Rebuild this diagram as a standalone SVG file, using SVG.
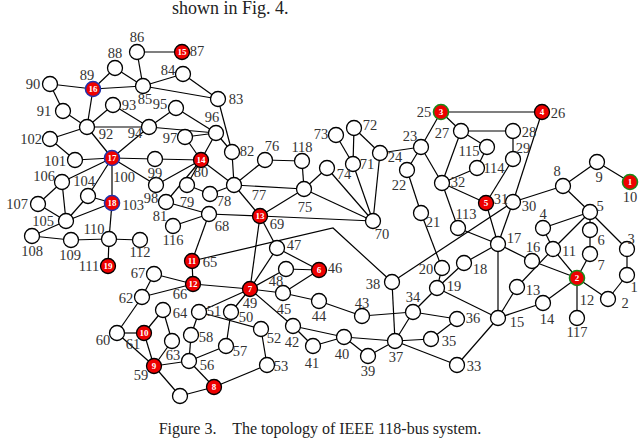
<svg xmlns="http://www.w3.org/2000/svg" width="640" height="441" viewBox="0 0 640 441">
<style>
.n{fill:#fff;stroke:#000;stroke-width:1.3}
.g{fill:#e00;stroke:#000;stroke-width:1.3}
.gg{fill:#e00;stroke:#1a8a1a;stroke-width:1.6}
.gb{fill:#e00;stroke:#2233aa;stroke-width:1.6}
.e line,.e polyline{stroke:#000;stroke-width:1.2;fill:none}
text{font-family:"Liberation Serif","Times New Roman",serif}
.l{font-size:14.5px;fill:#333;text-anchor:middle;dominant-baseline:central}
.w{font-size:9px;font-weight:bold;fill:#fff;text-anchor:middle;dominant-baseline:central}
</style>
<rect width="640" height="441" fill="#fff"/>
<text x="172" y="14" font-size="18" fill="#222">shown in Fig. 4.</text>
<g class="e">
<line x1="627" y1="275" x2="608" y2="299"/><line x1="627" y1="275" x2="627" y2="249"/><line x1="543" y1="228" x2="590" y2="212"/><line x1="627" y1="249" x2="590" y2="212"/><line x1="590" y1="212" x2="590" y2="230"/><line x1="590" y1="230" x2="590" y2="254"/><line x1="563" y1="186" x2="597" y2="162"/><line x1="563" y1="186" x2="590" y2="212"/><line x1="597" y1="162" x2="630" y2="182"/><line x1="543" y1="228" x2="553" y2="249"/><line x1="590" y1="212" x2="553" y2="249"/><line x1="553" y1="249" x2="577" y2="278"/><line x1="608" y1="299" x2="577" y2="278"/><line x1="590" y1="254" x2="577" y2="278"/><line x1="553" y1="249" x2="517" y2="287"/><line x1="577" y1="278" x2="543" y2="303"/><line x1="517" y1="287" x2="498" y2="318"/><line x1="543" y1="303" x2="498" y2="318"/><line x1="577" y1="278" x2="532" y2="261"/><line x1="498" y1="318" x2="498" y2="244"/><line x1="532" y1="261" x2="498" y2="244"/><line x1="498" y1="244" x2="464" y2="263"/><line x1="464" y1="263" x2="437" y2="288"/><line x1="437" y1="288" x2="442" y2="268"/><line x1="498" y1="318" x2="437" y2="288"/><line x1="442" y1="268" x2="421" y2="213"/><line x1="421" y1="213" x2="407" y2="170"/><line x1="407" y1="170" x2="421" y2="147"/><line x1="421" y1="147" x2="380" y2="153"/><line x1="421" y1="147" x2="441" y2="112"/><line x1="542" y1="112" x2="441" y2="112"/><line x1="441" y1="112" x2="461" y2="131"/><line x1="461" y1="131" x2="513" y2="131"/><line x1="513" y1="131" x2="513" y2="159"/><line x1="513" y1="202" x2="498" y2="244"/><line x1="563" y1="186" x2="513" y2="202"/><line x1="542" y1="112" x2="513" y2="202"/><line x1="498" y1="244" x2="486" y2="203"/><line x1="513" y1="159" x2="486" y2="203"/><line x1="421" y1="147" x2="442" y2="183"/><line x1="486" y1="203" x2="442" y2="183"/><line x1="461" y1="131" x2="442" y2="183"/><line x1="498" y1="318" x2="457" y2="365"/><line x1="437" y1="288" x2="413" y2="312"/><line x1="431" y1="339" x2="457" y2="319"/><line x1="431" y1="339" x2="395" y2="341"/><line x1="457" y1="365" x2="395" y2="341"/><line x1="413" y1="312" x2="457" y2="319"/><line x1="413" y1="312" x2="395" y2="341"/><line x1="392" y1="282" x2="395" y2="341"/><line x1="395" y1="341" x2="368" y2="356"/><line x1="395" y1="341" x2="344" y2="337"/><line x1="513" y1="202" x2="392" y2="282"/><line x1="368" y1="356" x2="344" y2="337"/><line x1="344" y1="337" x2="313" y2="346"/><line x1="344" y1="337" x2="293" y2="326"/><line x1="313" y1="346" x2="293" y2="326"/><line x1="362" y1="316" x2="319" y2="301"/><line x1="413" y1="312" x2="362" y2="316"/><line x1="319" y1="301" x2="283" y2="293"/><line x1="283" y1="293" x2="319" y2="270"/><line x1="319" y1="270" x2="277" y2="248"/><line x1="319" y1="270" x2="286" y2="269"/><line x1="277" y1="248" x2="250" y2="289"/><line x1="293" y1="326" x2="250" y2="289"/><line x1="283" y1="293" x2="250" y2="289"/><line x1="286" y1="269" x2="250" y2="289"/><line x1="250" y1="289" x2="231" y2="312"/><line x1="250" y1="289" x2="199" y2="312"/><line x1="199" y1="312" x2="261" y2="329"/><line x1="261" y1="329" x2="267" y2="365"/><line x1="267" y1="365" x2="214" y2="387"/><line x1="214" y1="387" x2="180" y2="396"/><line x1="214" y1="387" x2="189" y2="361"/><line x1="189" y1="361" x2="226" y2="346"/><line x1="231" y1="312" x2="226" y2="346"/><line x1="189" y1="361" x2="191" y2="335"/><line x1="199" y1="312" x2="191" y2="335"/><line x1="189" y1="361" x2="154" y2="366"/><line x1="180" y1="396" x2="154" y2="366"/><line x1="154" y1="366" x2="117" y2="333"/><line x1="154" y1="366" x2="144" y2="333"/><line x1="117" y1="333" x2="144" y2="333"/><line x1="117" y1="333" x2="142" y2="297"/><line x1="172" y1="341" x2="154" y2="366"/><line x1="172" y1="341" x2="163" y2="310"/><line x1="163" y1="310" x2="144" y2="333"/><polyline points="392,282 333,228 192,261"/><line x1="250" y1="289" x2="193" y2="284"/><line x1="142" y1="297" x2="193" y2="284"/><line x1="142" y1="297" x2="154" y2="274"/><line x1="192" y1="261" x2="193" y2="284"/><line x1="193" y1="284" x2="154" y2="274"/><line x1="192" y1="261" x2="209" y2="214"/><line x1="277" y1="248" x2="260" y2="216"/><line x1="250" y1="289" x2="260" y2="216"/><line x1="209" y1="214" x2="260" y2="216"/><line x1="260" y1="216" x2="373" y2="221"/><line x1="380" y1="153" x2="373" y2="221"/><line x1="373" y1="221" x2="353" y2="164"/><line x1="380" y1="153" x2="354" y2="128"/><line x1="353" y1="164" x2="354" y2="128"/><line x1="353" y1="164" x2="336" y2="135"/><line x1="373" y1="221" x2="327" y2="168"/><line x1="373" y1="221" x2="304" y2="189"/><line x1="260" y1="216" x2="304" y2="189"/><line x1="327" y1="168" x2="304" y2="189"/><line x1="265" y1="160" x2="234" y2="185"/><line x1="260" y1="216" x2="234" y2="185"/><line x1="304" y1="189" x2="234" y2="185"/><line x1="234" y1="185" x2="210" y2="194"/><line x1="210" y1="194" x2="187" y2="185"/><line x1="234" y1="185" x2="201" y2="160"/><line x1="187" y1="185" x2="201" y2="160"/><line x1="209" y1="214" x2="166" y2="202"/><line x1="166" y1="202" x2="201" y2="160"/><line x1="234" y1="185" x2="232" y2="152"/><line x1="232" y1="152" x2="218" y2="99"/><line x1="218" y1="99" x2="183" y2="74"/><line x1="218" y1="99" x2="143" y2="86"/><line x1="183" y1="74" x2="143" y2="86"/><line x1="143" y1="86" x2="137" y2="52"/><line x1="137" y1="52" x2="182" y2="52"/><line x1="143" y1="86" x2="115" y2="68"/><line x1="143" y1="86" x2="93" y2="89"/><line x1="115" y1="68" x2="93" y2="89"/><line x1="93" y1="89" x2="50" y2="84"/><line x1="50" y1="84" x2="63" y2="111"/><line x1="93" y1="89" x2="87" y2="127"/><line x1="63" y1="111" x2="87" y2="127"/><line x1="87" y1="127" x2="113" y2="105"/><line x1="87" y1="127" x2="149" y2="127"/><line x1="113" y1="105" x2="149" y2="127"/><line x1="149" y1="127" x2="176" y2="108"/><line x1="201" y1="160" x2="216" y2="133"/><line x1="232" y1="152" x2="216" y2="133"/><line x1="149" y1="127" x2="216" y2="133"/><line x1="201" y1="160" x2="185" y2="137"/><line x1="201" y1="160" x2="156" y2="185"/><line x1="201" y1="160" x2="155" y2="159"/><line x1="87" y1="127" x2="112" y2="158"/><line x1="149" y1="127" x2="112" y2="158"/><line x1="176" y1="108" x2="216" y2="133"/><line x1="216" y1="133" x2="185" y2="137"/><line x1="156" y1="185" x2="112" y2="158"/><line x1="155" y1="159" x2="112" y2="158"/><line x1="112" y1="158" x2="75" y2="160"/><line x1="87" y1="127" x2="50" y2="139"/><line x1="75" y1="160" x2="50" y2="139"/><line x1="112" y1="158" x2="112" y2="203"/><line x1="112" y1="158" x2="88" y2="196"/><line x1="112" y1="203" x2="88" y2="196"/><line x1="112" y1="203" x2="66" y2="221"/><line x1="112" y1="158" x2="62" y2="182"/><line x1="88" y1="196" x2="66" y2="221"/><line x1="66" y1="221" x2="62" y2="182"/><line x1="66" y1="221" x2="38" y2="204"/><line x1="66" y1="221" x2="32" y2="236"/><line x1="62" y1="182" x2="38" y2="204"/><line x1="32" y1="236" x2="71" y2="240"/><line x1="112" y1="203" x2="109" y2="239"/><line x1="71" y1="240" x2="109" y2="239"/><line x1="109" y1="239" x2="108" y2="266"/><line x1="109" y1="239" x2="140" y2="240"/><line x1="498" y1="244" x2="458" y2="228"/><line x1="442" y1="183" x2="458" y2="228"/><line x1="442" y1="183" x2="477" y2="168"/><line x1="461" y1="131" x2="487" y2="147"/><line x1="477" y1="168" x2="487" y2="147"/><line x1="209" y1="214" x2="173" y2="226"/><line x1="577" y1="278" x2="577" y2="318"/><line x1="304" y1="189" x2="302" y2="161"/><line x1="265" y1="160" x2="302" y2="161"/>
</g>
<g id="nodes">
<g id="n1"><circle class="n" cx="627" cy="275" r="7.5"/><text class="l" x="634" y="287">1</text></g>
<g id="n2"><circle class="n" cx="608" cy="299" r="7.5"/><text class="l" x="625" y="303">2</text></g>
<g id="n3"><circle class="n" cx="627" cy="249" r="7.5"/><text class="l" x="631" y="239">3</text></g>
<g id="n4"><circle class="n" cx="543" cy="228" r="7.5"/><text class="l" x="543" y="214">4</text></g>
<g id="n5"><circle class="n" cx="590" cy="212" r="7.5"/><text class="l" x="600" y="206">5</text></g>
<g id="n6"><circle class="n" cx="590" cy="230" r="7.5"/><text class="l" x="601" y="240">6</text></g>
<g id="n7"><circle class="n" cx="590" cy="254" r="7.5"/><text class="l" x="601" y="265">7</text></g>
<g id="n8"><circle class="n" cx="563" cy="186" r="7.5"/><text class="l" x="557" y="171">8</text></g>
<g id="n9"><circle class="n" cx="597" cy="162" r="7.5"/><text class="l" x="599" y="177">9</text></g>
<g id="n10"><circle class="gg" cx="630" cy="182" r="7.5"/><text class="w" x="630" y="182">1</text><text class="l" x="630" y="197">10</text></g>
<g id="n11"><circle class="n" cx="553" cy="249" r="7.5"/><text class="l" x="569" y="251">11</text></g>
<g id="n12"><circle class="gg" cx="577" cy="278" r="7.5"/><text class="w" x="577" y="278">2</text><text class="l" x="587" y="300">12</text></g>
<g id="n13"><circle class="n" cx="517" cy="287" r="7.5"/><text class="l" x="533" y="290">13</text></g>
<g id="n14"><circle class="n" cx="543" cy="303" r="7.5"/><text class="l" x="547" y="319">14</text></g>
<g id="n15"><circle class="n" cx="498" cy="318" r="7.5"/><text class="l" x="517" y="322">15</text></g>
<g id="n16"><circle class="n" cx="532" cy="261" r="7.5"/><text class="l" x="533" y="247">16</text></g>
<g id="n17"><circle class="n" cx="498" cy="244" r="7.5"/><text class="l" x="514" y="238">17</text></g>
<g id="n18"><circle class="n" cx="464" cy="263" r="7.5"/><text class="l" x="480" y="269">18</text></g>
<g id="n19"><circle class="n" cx="437" cy="288" r="7.5"/><text class="l" x="454" y="286">19</text></g>
<g id="n20"><circle class="n" cx="442" cy="268" r="7.5"/><text class="l" x="426" y="269">20</text></g>
<g id="n21"><circle class="n" cx="421" cy="213" r="7.5"/><text class="l" x="433" y="222">21</text></g>
<g id="n22"><circle class="n" cx="407" cy="170" r="7.5"/><text class="l" x="399" y="185">22</text></g>
<g id="n23"><circle class="n" cx="421" cy="147" r="7.5"/><text class="l" x="410" y="136">23</text></g>
<g id="n24"><circle class="n" cx="380" cy="153" r="7.5"/><text class="l" x="395" y="157">24</text></g>
<g id="n25"><circle class="gg" cx="441" cy="112" r="7.5"/><text class="w" x="441" y="112">3</text><text class="l" x="424" y="112">25</text></g>
<g id="n26"><circle class="g" cx="542" cy="112" r="7.5"/><text class="w" x="542" y="112">4</text><text class="l" x="558" y="113">26</text></g>
<g id="n27"><circle class="n" cx="461" cy="131" r="7.5"/><text class="l" x="442" y="133">27</text></g>
<g id="n28"><circle class="n" cx="513" cy="131" r="7.5"/><text class="l" x="529" y="132">28</text></g>
<g id="n29"><circle class="n" cx="513" cy="159" r="7.5"/><text class="l" x="523" y="148">29</text></g>
<g id="n30"><circle class="n" cx="513" cy="202" r="7.5"/><text class="l" x="529" y="206">30</text></g>
<g id="n31"><circle class="g" cx="486" cy="203" r="7.5"/><text class="w" x="486" y="203">5</text><text class="l" x="501" y="199">31</text></g>
<g id="n32"><circle class="n" cx="442" cy="183" r="7.5"/><text class="l" x="458" y="182">32</text></g>
<g id="n33"><circle class="n" cx="457" cy="365" r="7.5"/><text class="l" x="474" y="366">33</text></g>
<g id="n34"><circle class="n" cx="413" cy="312" r="7.5"/><text class="l" x="413" y="297">34</text></g>
<g id="n35"><circle class="n" cx="431" cy="339" r="7.5"/><text class="l" x="449" y="341">35</text></g>
<g id="n36"><circle class="n" cx="457" cy="319" r="7.5"/><text class="l" x="473" y="318">36</text></g>
<g id="n37"><circle class="n" cx="395" cy="341" r="7.5"/><text class="l" x="396" y="357">37</text></g>
<g id="n38"><circle class="n" cx="392" cy="282" r="7.5"/><text class="l" x="373" y="284">38</text></g>
<g id="n39"><circle class="n" cx="368" cy="356" r="7.5"/><text class="l" x="368" y="371">39</text></g>
<g id="n40"><circle class="n" cx="344" cy="337" r="7.5"/><text class="l" x="342" y="354">40</text></g>
<g id="n41"><circle class="n" cx="313" cy="346" r="7.5"/><text class="l" x="312" y="363">41</text></g>
<g id="n42"><circle class="n" cx="293" cy="326" r="7.5"/><text class="l" x="292" y="342">42</text></g>
<g id="n43"><circle class="n" cx="362" cy="316" r="7.5"/><text class="l" x="362" y="303">43</text></g>
<g id="n44"><circle class="n" cx="319" cy="301" r="7.5"/><text class="l" x="319" y="316">44</text></g>
<g id="n45"><circle class="n" cx="283" cy="293" r="7.5"/><text class="l" x="284" y="309">45</text></g>
<g id="n46"><circle class="g" cx="319" cy="270" r="7.5"/><text class="w" x="319" y="270">6</text><text class="l" x="335" y="268">46</text></g>
<g id="n47"><circle class="n" cx="277" cy="248" r="7.5"/><text class="l" x="294" y="245">47</text></g>
<g id="n48"><circle class="n" cx="286" cy="269" r="7.5"/><text class="l" x="276" y="281">48</text></g>
<g id="n49"><circle class="g" cx="250" cy="289" r="7.5"/><text class="w" x="250" y="289">7</text><text class="l" x="250" y="303">49</text></g>
<g id="n50"><circle class="n" cx="231" cy="312" r="7.5"/><text class="l" x="246" y="317">50</text></g>
<g id="n51"><circle class="n" cx="199" cy="312" r="7.5"/><text class="l" x="214" y="311">51</text></g>
<g id="n52"><circle class="n" cx="261" cy="329" r="7.5"/><text class="l" x="274" y="338">52</text></g>
<g id="n53"><circle class="n" cx="267" cy="365" r="7.5"/><text class="l" x="281" y="366">53</text></g>
<g id="n54"><circle class="g" cx="214" cy="387" r="7.5"/><text class="w" x="214" y="387">8</text></g>
<g id="n55"><circle class="n" cx="180" cy="396" r="7.5"/></g>
<g id="n56"><circle class="n" cx="189" cy="361" r="7.5"/><text class="l" x="207" y="365">56</text></g>
<g id="n57"><circle class="n" cx="226" cy="346" r="7.5"/><text class="l" x="240" y="351">57</text></g>
<g id="n58"><circle class="n" cx="191" cy="335" r="7.5"/><text class="l" x="206" y="337">58</text></g>
<g id="n59"><circle class="g" cx="154" cy="366" r="7.5"/><text class="w" x="154" y="366">9</text><text class="l" x="141" y="375">59</text></g>
<g id="n60"><circle class="n" cx="117" cy="333" r="7.5"/><text class="l" x="103" y="340">60</text></g>
<g id="n61"><circle class="g" cx="144" cy="333" r="7.5"/><text class="w" x="144" y="333">10</text><text class="l" x="133" y="344">61</text></g>
<g id="n62"><circle class="n" cx="142" cy="297" r="7.5"/><text class="l" x="126" y="298">62</text></g>
<g id="n63"><circle class="n" cx="172" cy="341" r="7.5"/><text class="l" x="173" y="355">63</text></g>
<g id="n64"><circle class="n" cx="163" cy="310" r="7.5"/><text class="l" x="180" y="313">64</text></g>
<g id="n65"><circle class="g" cx="192" cy="261" r="7.5"/><text class="w" x="192" y="261">11</text><text class="l" x="210" y="262">65</text></g>
<g id="n66"><circle class="g" cx="193" cy="284" r="7.5"/><text class="w" x="193" y="284">12</text><text class="l" x="180" y="294">66</text></g>
<g id="n67"><circle class="n" cx="154" cy="274" r="7.5"/><text class="l" x="138" y="273">67</text></g>
<g id="n68"><circle class="n" cx="209" cy="214" r="7.5"/><text class="l" x="222" y="226">68</text></g>
<g id="n69"><circle class="g" cx="260" cy="216" r="7.5"/><text class="w" x="260" y="216">13</text><text class="l" x="277" y="224">69</text></g>
<g id="n70"><circle class="n" cx="373" cy="221" r="7.5"/><text class="l" x="382" y="234">70</text></g>
<g id="n71"><circle class="n" cx="353" cy="164" r="7.5"/><text class="l" x="367" y="164">71</text></g>
<g id="n72"><circle class="n" cx="354" cy="128" r="7.5"/><text class="l" x="370" y="125">72</text></g>
<g id="n73"><circle class="n" cx="336" cy="135" r="7.5"/><text class="l" x="321" y="134">73</text></g>
<g id="n74"><circle class="n" cx="327" cy="168" r="7.5"/><text class="l" x="344" y="174">74</text></g>
<g id="n75"><circle class="n" cx="304" cy="189" r="7.5"/><text class="l" x="305" y="207">75</text></g>
<g id="n76"><circle class="n" cx="265" cy="160" r="7.5"/><text class="l" x="272" y="146">76</text></g>
<g id="n77"><circle class="n" cx="234" cy="185" r="7.5"/><text class="l" x="259" y="195">77</text></g>
<g id="n78"><circle class="n" cx="210" cy="194" r="7.5"/><text class="l" x="224" y="201">78</text></g>
<g id="n79"><circle class="n" cx="187" cy="185" r="7.5"/><text class="l" x="187" y="202">79</text></g>
<g id="n80"><circle class="g" cx="201" cy="160" r="7.5"/><text class="w" x="201" y="160">14</text><text class="l" x="201" y="172">80</text></g>
<g id="n81"><circle class="n" cx="166" cy="202" r="7.5"/><text class="l" x="160" y="216">81</text></g>
<g id="n82"><circle class="n" cx="232" cy="152" r="7.5"/><text class="l" x="247" y="151">82</text></g>
<g id="n83"><circle class="n" cx="218" cy="99" r="7.5"/><text class="l" x="236" y="99">83</text></g>
<g id="n84"><circle class="n" cx="183" cy="74" r="7.5"/><text class="l" x="168" y="70">84</text></g>
<g id="n85"><circle class="n" cx="143" cy="86" r="7.5"/><text class="l" x="145" y="99">85</text></g>
<g id="n86"><circle class="n" cx="137" cy="52" r="7.5"/><text class="l" x="137" y="37">86</text></g>
<g id="n87"><circle class="g" cx="182" cy="52" r="7.5"/><text class="w" x="182" y="52">15</text><text class="l" x="197" y="51">87</text></g>
<g id="n88"><circle class="n" cx="115" cy="68" r="7.5"/><text class="l" x="115" y="53">88</text></g>
<g id="n89"><circle class="gb" cx="93" cy="89" r="7.5"/><text class="w" x="93" y="89">16</text><text class="l" x="87" y="75">89</text></g>
<g id="n90"><circle class="n" cx="50" cy="84" r="7.5"/><text class="l" x="33" y="84">90</text></g>
<g id="n91"><circle class="n" cx="63" cy="111" r="7.5"/><text class="l" x="44" y="111">91</text></g>
<g id="n92"><circle class="n" cx="87" cy="127" r="7.5"/><text class="l" x="106" y="134">92</text></g>
<g id="n93"><circle class="n" cx="113" cy="105" r="7.5"/><text class="l" x="129" y="105">93</text></g>
<g id="n94"><circle class="n" cx="149" cy="127" r="7.5"/><text class="l" x="135" y="133">94</text></g>
<g id="n95"><circle class="n" cx="176" cy="108" r="7.5"/><text class="l" x="160" y="104">95</text></g>
<g id="n96"><circle class="n" cx="216" cy="133" r="7.5"/><text class="l" x="212" y="117">96</text></g>
<g id="n97"><circle class="n" cx="185" cy="137" r="7.5"/><text class="l" x="170" y="138">97</text></g>
<g id="n98"><circle class="n" cx="156" cy="185" r="7.5"/><text class="l" x="151" y="198">98</text></g>
<g id="n99"><circle class="n" cx="155" cy="159" r="7.5"/><text class="l" x="155" y="173">99</text></g>
<g id="n100"><circle class="gb" cx="112" cy="158" r="7.5"/><text class="w" x="112" y="158">17</text><text class="l" x="124" y="177">100</text></g>
<g id="n101"><circle class="n" cx="75" cy="160" r="7.5"/><text class="l" x="55" y="161">101</text></g>
<g id="n102"><circle class="n" cx="50" cy="139" r="7.5"/><text class="l" x="31" y="139">102</text></g>
<g id="n103"><circle class="gb" cx="112" cy="203" r="7.5"/><text class="w" x="112" y="203">18</text><text class="l" x="133" y="205">103</text></g>
<g id="n104"><circle class="n" cx="88" cy="196" r="7.5"/><text class="l" x="84" y="181">104</text></g>
<g id="n105"><circle class="n" cx="66" cy="221" r="7.5"/><text class="l" x="43" y="221">105</text></g>
<g id="n106"><circle class="n" cx="62" cy="182" r="7.5"/><text class="l" x="44" y="176">106</text></g>
<g id="n107"><circle class="n" cx="38" cy="204" r="7.5"/><text class="l" x="17" y="204">107</text></g>
<g id="n108"><circle class="n" cx="32" cy="236" r="7.5"/><text class="l" x="32" y="251">108</text></g>
<g id="n109"><circle class="n" cx="71" cy="240" r="7.5"/><text class="l" x="70" y="255">109</text></g>
<g id="n110"><circle class="n" cx="109" cy="239" r="7.5"/><text class="l" x="94" y="229">110</text></g>
<g id="n111"><circle class="g" cx="108" cy="266" r="7.5"/><text class="w" x="108" y="266">19</text><text class="l" x="89" y="266">111</text></g>
<g id="n112"><circle class="n" cx="140" cy="240" r="7.5"/><text class="l" x="140" y="252">112</text></g>
<g id="n113"><circle class="n" cx="458" cy="228" r="7.5"/><text class="l" x="466" y="214">113</text></g>
<g id="n114"><circle class="n" cx="477" cy="168" r="7.5"/><text class="l" x="494" y="168">114</text></g>
<g id="n115"><circle class="n" cx="487" cy="147" r="7.5"/><text class="l" x="469" y="151">115</text></g>
<g id="n116"><circle class="n" cx="173" cy="226" r="7.5"/><text class="l" x="173" y="240">116</text></g>
<g id="n117"><circle class="n" cx="577" cy="318" r="7.5"/><text class="l" x="577" y="332">117</text></g>
<g id="n118"><circle class="n" cx="302" cy="161" r="7.5"/><text class="l" x="302" y="147">118</text></g>
</g>
<text x="320" y="434" font-size="16" fill="#222" text-anchor="middle" xml:space="preserve">Figure 3.    The topology of IEEE 118-bus system.</text>
</svg>
